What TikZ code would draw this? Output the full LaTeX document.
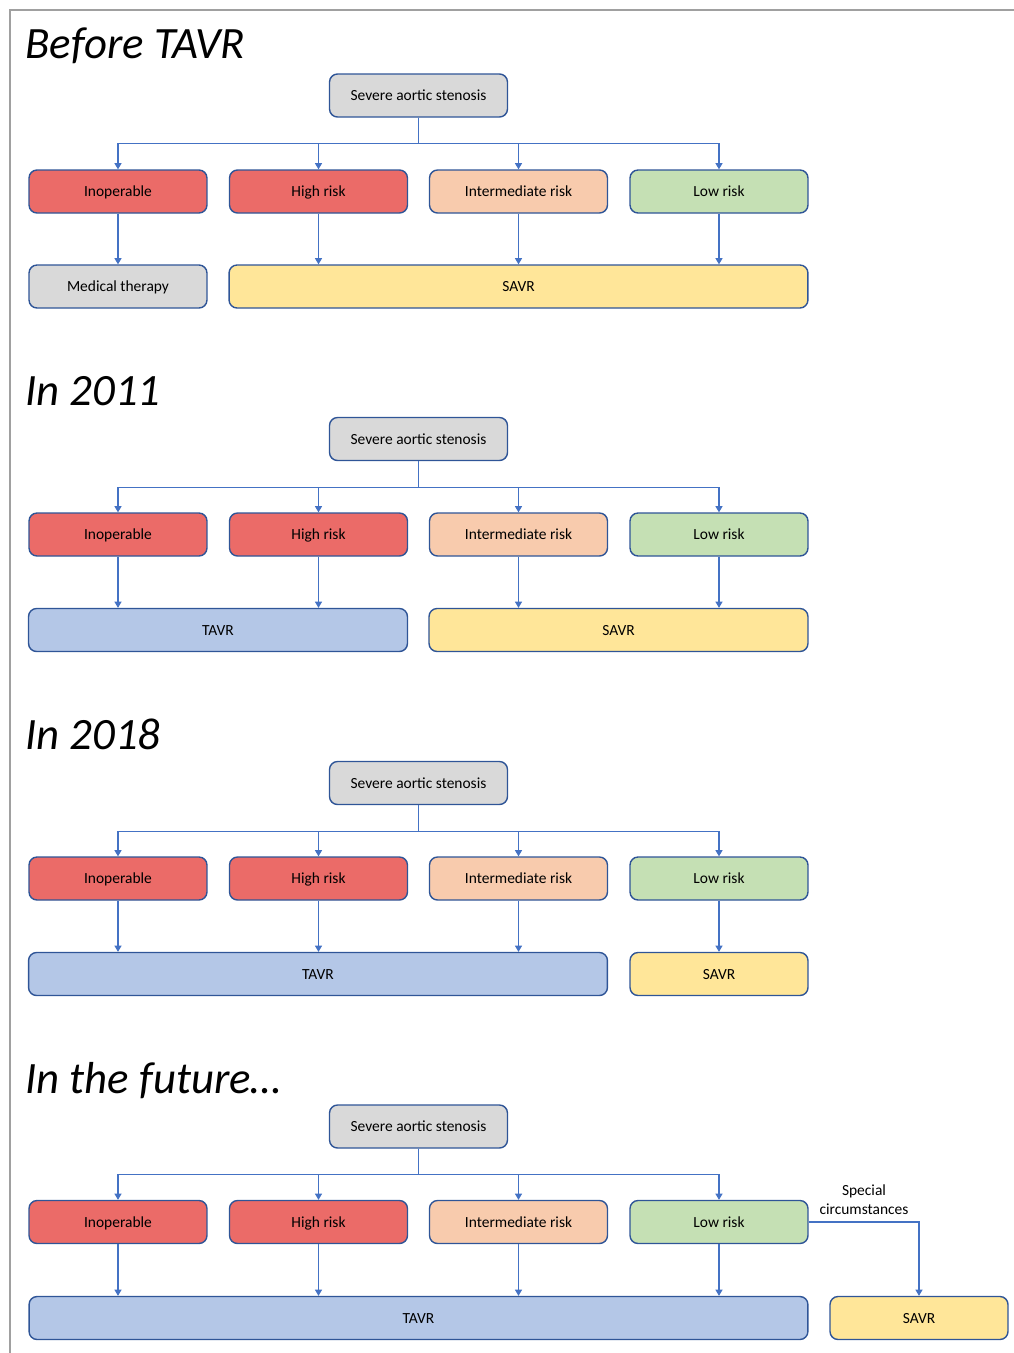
\documentclass[tikz,border=0pt]{standalone}
\usepackage{fontspec}
\setmainfont{Carlito}
\usetikzlibrary{arrows.meta}

\definecolor{boxline}{RGB}{47,85,151}
\definecolor{arrowblue}{RGB}{68,114,196}
\definecolor{framegray}{RGB}{160,160,160}
\definecolor{greyfill}{RGB}{217,217,217}
\definecolor{redfill}{RGB}{235,107,104}
\definecolor{peachfill}{RGB}{248,203,173}
\definecolor{greenfill}{RGB}{197,224,180}
\definecolor{yellowfill}{RGB}{255,230,153}
\definecolor{bluefill}{RGB}{180,199,231}

\begin{document}
\begin{tikzpicture}
    [
        x=0.02cm, y=-0.02cm,
        box/.style={rectangle, rounded corners=0.16cm, draw=boxline, line width=0.8pt, minimum height=0.86cm, minimum width=3.56cm, text centered, text height=1.5ex, text depth=0.25ex, font=\fontsize{8.8}{10}\selectfont},
        greybox/.style={box, fill=greyfill},
        redbox/.style={box, fill=redfill},
        peachbox/.style={box, fill=peachfill},
        greenbox/.style={box, fill=greenfill},
        yellowbox/.style={box, fill=yellowfill},
        bluebox/.style={box, fill=bluefill},
        arrow/.style={-{Triangle[width=4pt,length=3.5pt]}, draw=arrowblue, line width=0.6pt},
        title/.style={anchor=base west, inner sep=0pt, font=\fontsize{25.5}{30}\selectfont\itshape}
    ]
    \useasboundingbox (0,0) rectangle (1014,1353);
    % Frame
    \draw[framegray, line width=1.7pt] (10,1353) -- (10,10) -- (1014,10);

    % Before TAVR
    \node[title] (t1) at (25,58) {Before TAVR};
    \node[greybox] (sev1) at (418.5,95.5) {Severe aortic stenosis};
    \node[redbox] (inop1) at (118,191.5) {Inoperable};
    \node[redbox] (high1) at (318.5,191.5) {High risk};
    \node[peachbox] (inter1) at (518.5,191.5) {Intermediate risk};
    \node[greenbox] (low1) at (719,191.5) {Low risk};
    \node[greybox] (med1) at (118,286.5) {Medical therapy};
    \node[yellowbox, minimum width=11.58cm] (savr1) at (518.5,286.5) {SAVR};

    \draw[arrow] (sev1.south) -- ++(0,26) -| (inop1.north);
    \draw[arrow] (sev1.south) -- ++(0,26) -| (high1.north);
    \draw[arrow] (sev1.south) -- ++(0,26) -| (inter1.north);
    \draw[arrow] (sev1.south) -- ++(0,26) -| (low1.north);
    \draw[arrow] (inop1) -- (med1);
    \draw[arrow] (high1) -- (high1 |- savr1.north);
    \draw[arrow] (inter1) -- (inter1 |- savr1.north);
    \draw[arrow] (low1) -- (low1 |- savr1.north);

    % In 2011
    \node[title] (t2) at (25,405) {In 2011};
    \node[greybox] (sev2) at (418.5,439) {Severe aortic stenosis};
    \node[redbox] (inop2) at (118,534.5) {Inoperable};
    \node[redbox] (high2) at (318.5,534.5) {High risk};
    \node[peachbox] (inter2) at (518.5,534.5) {Intermediate risk};
    \node[greenbox] (low2) at (719,534.5) {Low risk};
    \node[bluebox, minimum width=7.58cm] (tavr2) at (218,630) {TAVR};
    \node[yellowbox, minimum width=7.58cm] (savr2) at (618.5,630) {SAVR};

    \draw[arrow] (sev2.south) -- ++(0,26) -| (inop2.north);
    \draw[arrow] (sev2.south) -- ++(0,26) -| (high2.north);
    \draw[arrow] (sev2.south) -- ++(0,26) -| (inter2.north);
    \draw[arrow] (sev2.south) -- ++(0,26) -| (low2.north);
    \draw[arrow] (inop2) -- (inop2 |- tavr2.north);
    \draw[arrow] (high2) -- (high2 |- tavr2.north);
    \draw[arrow] (inter2) -- (inter2 |- savr2.north);
    \draw[arrow] (low2) -- (low2 |- savr2.north);

    % In 2018
    \node[title] (t3) at (25,749) {In 2018};
    \node[greybox] (sev3) at (418.5,783) {Severe aortic stenosis};
    \node[redbox] (inop3) at (118,878.5) {Inoperable};
    \node[redbox] (high3) at (318.5,878.5) {High risk};
    \node[peachbox] (inter3) at (518.5,878.5) {Intermediate risk};
    \node[greenbox] (low3) at (719,878.5) {Low risk};
    \node[bluebox, minimum width=11.58cm] (tavr3) at (318,974) {TAVR};
    \node[yellowbox] (savr3) at (719,974) {SAVR};

    \draw[arrow] (sev3.south) -- ++(0,26) -| (inop3.north);
    \draw[arrow] (sev3.south) -- ++(0,26) -| (high3.north);
    \draw[arrow] (sev3.south) -- ++(0,26) -| (inter3.north);
    \draw[arrow] (sev3.south) -- ++(0,26) -| (low3.north);
    \draw[arrow] (inop3) -- (inop3 |- tavr3.north);
    \draw[arrow] (high3) -- (high3 |- tavr3.north);
    \draw[arrow] (inter3) -- (inter3 |- tavr3.north);
    \draw[arrow] (low3) -- (savr3);

    % In the future
    \node[title] (t4) at (25,1093) {In the future\dots};
    \node[greybox] (sev4) at (418.5,1126.5) {Severe aortic stenosis};
    \node[redbox] (inop4) at (118,1222) {Inoperable};
    \node[redbox] (high4) at (318.5,1222) {High risk};
    \node[peachbox] (inter4) at (518.5,1222) {Intermediate risk};
    \node[greenbox] (low4) at (719,1222) {Low risk};
    \node[bluebox, minimum width=15.58cm] (tavr4) at (418.5,1318) {TAVR};
    \node[yellowbox] (savr4) at (919,1318) {SAVR};
    \node[align=center, font=\fontsize{8.8}{10.8}\selectfont] (spec) at (864,1200) {Special\\circumstances};

    \draw[arrow] (sev4.south) -- ++(0,26) -| (inop4.north);
    \draw[arrow] (sev4.south) -- ++(0,26) -| (high4.north);
    \draw[arrow] (sev4.south) -- ++(0,26) -| (inter4.north);
    \draw[arrow] (sev4.south) -- ++(0,26) -| (low4.north);
    \draw[arrow] (inop4) -- (inop4 |- tavr4.north);
    \draw[arrow] (high4) -- (high4 |- tavr4.north);
    \draw[arrow] (inter4) -- (inter4 |- tavr4.north);
    \draw[arrow] (low4) -- (low4 |- tavr4.north);
    \draw[arrow] (low4.east) -| (savr4.north);
\end{tikzpicture}
\end{document}
